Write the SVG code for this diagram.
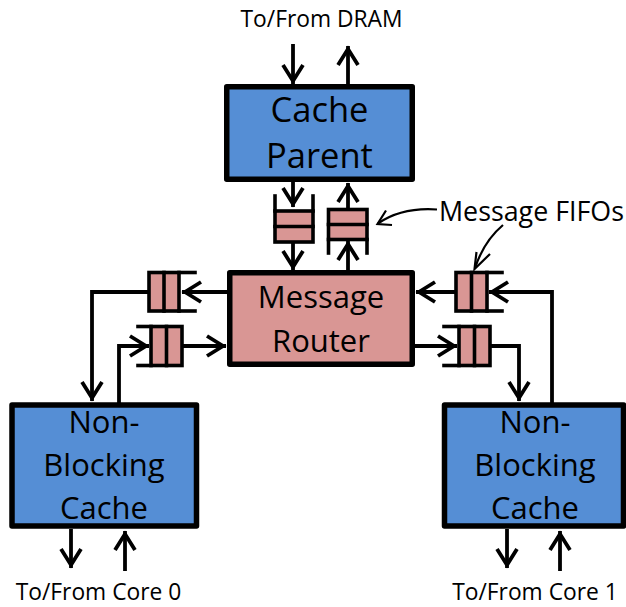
<svg xmlns="http://www.w3.org/2000/svg" width="626" height="607" viewBox="0 0 626 607">
  <style>
    text { font-family: "Open Sans", "Liberation Sans", sans-serif; fill: #000; text-anchor: middle; }
    .big { font-size: 31px; }
    .cp { font-size: 34.5px; }
    .nb { font-size: 31px; }
    .lbl { font-size: 22.8px; }
    .box { stroke: #000; stroke-width: 5.5; stroke-linejoin: round; }
    .blue { fill: #558ED5; }
    .pink { fill: #D99694; }
    .cell { fill: #D99694; stroke: #000; stroke-width: 3.6; }
    .rail { fill: none; stroke: #000; stroke-width: 3.6; stroke-linecap: square; }
    .wire { fill: none; stroke: #000; stroke-width: 3.8; marker-end: url(#arr); }
    .note { fill: none; stroke: #000; stroke-width: 2.2; }
  </style>
  <defs>
    <marker id="arr" markerUnits="userSpaceOnUse" viewBox="-22 -14 28 28" markerWidth="28" markerHeight="28" refX="3" refY="0" orient="auto">
      <path d="M-16,-10 L0,0 L-16,10" fill="none" stroke="#000" stroke-width="3.8"/>
    </marker>
  </defs>

  <!-- Cache parent -->
  <g id="cache-parent">
    <rect class="box blue" x="226.75" y="86.75" width="185.5" height="92.5"/>
    <text class="cp" x="319.5" y="122">Cache</text>
    <text class="cp" x="319.5" y="168">Parent</text>
  </g>

  <!-- Message router -->
  <g id="message-router">
    <rect class="box pink" x="229.75" y="272.75" width="182.5" height="91.5"/>
    <text class="big" x="321" y="308">Message</text>
    <text class="big" x="321" y="352">Router</text>
  </g>

  <!-- Non-blocking caches -->
  <g id="cache-0">
    <rect class="box blue" x="12" y="405" width="184.5" height="121"/>
    <text class="nb" x="104" y="433">Non-</text>
    <text class="nb" x="104" y="476">Blocking</text>
    <text class="nb" x="104" y="519">Cache</text>
  </g>
  <g id="cache-1">
    <rect class="box blue" x="444.5" y="405" width="179" height="121"/>
    <text class="nb" x="535" y="433">Non-</text>
    <text class="nb" x="535" y="476">Blocking</text>
    <text class="nb" x="535" y="519">Cache</text>
  </g>

  <!-- FIFOs between parent and router -->
  <g id="fifo-down">
    <rect class="cell" x="275" y="211" width="38" height="31"/>
    <line class="rail" x1="275" y1="226.5" x2="313" y2="226.5"/>
    <line class="rail" x1="275" y1="196" x2="275" y2="211"/>
    <line class="rail" x1="313" y1="196" x2="313" y2="211"/>
  </g>
  <g id="fifo-up">
    <rect class="cell" x="328.5" y="209.5" width="38.5" height="30"/>
    <line class="rail" x1="328.5" y1="224.5" x2="367" y2="224.5"/>
    <line class="rail" x1="328.5" y1="239.5" x2="328.5" y2="253"/>
    <line class="rail" x1="367" y1="239.5" x2="367" y2="253"/>
  </g>

  <!-- FIFOs on the left -->
  <g id="fifo-left-out">
    <rect class="cell" x="149" y="272.5" width="30" height="38.5"/>
    <line class="rail" x1="164" y1="272.5" x2="164" y2="311"/>
    <line class="rail" x1="179" y1="272.5" x2="195" y2="272.5"/>
    <line class="rail" x1="179" y1="311" x2="195" y2="311"/>
  </g>
  <g id="fifo-left-in">
    <rect class="cell" x="151" y="326.5" width="31" height="39"/>
    <line class="rail" x1="166.5" y1="326.5" x2="166.5" y2="365.5"/>
    <line class="rail" x1="138" y1="326.5" x2="151" y2="326.5"/>
    <line class="rail" x1="138" y1="365.5" x2="151" y2="365.5"/>
  </g>

  <!-- FIFOs on the right -->
  <g id="fifo-right-in">
    <rect class="cell" x="456" y="272.5" width="31" height="38.5"/>
    <line class="rail" x1="471.5" y1="272.5" x2="471.5" y2="311"/>
    <line class="rail" x1="487" y1="272.5" x2="502" y2="272.5"/>
    <line class="rail" x1="487" y1="311" x2="502" y2="311"/>
  </g>
  <g id="fifo-right-out">
    <rect class="cell" x="459" y="326.5" width="31" height="39"/>
    <line class="rail" x1="474.5" y1="326.5" x2="474.5" y2="365.5"/>
    <line class="rail" x1="444" y1="326.5" x2="459" y2="326.5"/>
    <line class="rail" x1="444" y1="365.5" x2="459" y2="365.5"/>
  </g>

  <!-- Connectors -->
  <g id="connectors">
    <!-- DRAM port -->
    <line class="wire" x1="293" y1="44" x2="293" y2="84"/>
    <line class="wire" x1="348" y1="84" x2="348" y2="46"/>
    <!-- parent <-> router -->
    <line class="wire" x1="293" y1="182" x2="293" y2="207"/>
    <line class="wire" x1="293" y1="242" x2="293" y2="270"/>
    <line class="wire" x1="348" y1="270" x2="348" y2="241"/>
    <line class="wire" x1="348" y1="209" x2="348" y2="183"/>
    <!-- left side -->
    <line class="wire" x1="227" y1="292" x2="182" y2="292"/>
    <polyline class="wire" points="149,292 92,292 92,401"/>
    <polyline class="wire" points="119,403 119,346 149,346"/>
    <line class="wire" x1="182" y1="346" x2="226" y2="346"/>
    <!-- right side -->
    <polyline class="wire" points="552,403 552,292 489,292"/>
    <line class="wire" x1="456" y1="292" x2="416" y2="292"/>
    <line class="wire" x1="415" y1="346" x2="457" y2="346"/>
    <polyline class="wire" points="490,346 519,346 519,401"/>
    <!-- core ports -->
    <line class="wire" x1="71" y1="529" x2="71" y2="568"/>
    <line class="wire" x1="125" y1="571" x2="125" y2="531"/>
    <line class="wire" x1="507" y1="529" x2="507" y2="568"/>
    <line class="wire" x1="560" y1="571" x2="560" y2="531"/>
    <!-- FIFO callouts -->
    <path class="note" d="M437,209.5 Q402,207 378,223.5"/>
    <path class="note" d="M386,210.5 L377.5,224 L392,225"/>
    <path class="note" d="M503,225 Q484,241 475,268"/>
    <path class="note" d="M476.5,252 L474.5,269 L490,254"/>
  </g>

  <!-- Labels -->
  <g id="labels">
    <text class="lbl" x="321.5" y="27">To/From DRAM</text>
    <text class="lbl" x="98.5" y="600">To/From Core 0</text>
    <text class="lbl" x="535" y="600">To/From Core 1</text>
    <text x="439" y="221" style="font-size:26.8px;text-anchor:start">Message FIFOs</text>
  </g>
</svg>
